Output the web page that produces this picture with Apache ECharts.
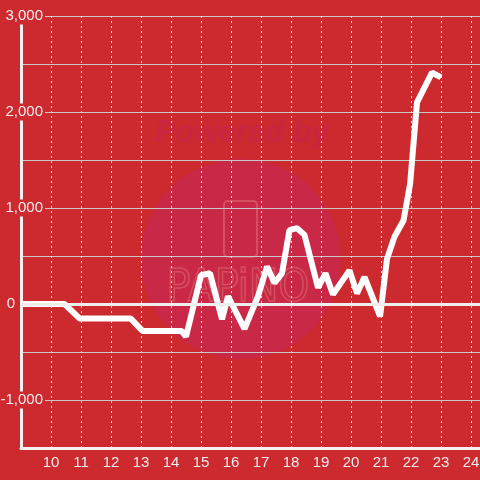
<!DOCTYPE html>
<html>
<head>
<meta charset="utf-8">
<script src="https://cdn.jsdelivr.net/npm/echarts@6/dist/echarts.min.js"></script>
<style>html,body{margin:0;padding:0;background:#cc2a2f}#c{width:480px;height:480px}</style>
</head>
<body>
<div id="c"></div>
<script>
// x = hour of day, y = cumulative value
const xValues = [9.0, 10.45, 10.95, 12.65, 13.05, 14.35, 14.5, 15.0, 15.3, 15.7, 15.9, 16.45, 16.9, 17.2, 17.45, 17.7, 17.95, 18.2, 18.45, 18.9, 19.15, 19.4, 19.95, 20.2, 20.45, 20.97, 21.2, 21.45, 21.75, 21.97, 22.2, 22.7, 23.0];
const yValues = [0, 0, -150, -150, -280, -280, -340, 300, 320, -160, 80, -260, 80, 390, 220, 320, 770, 790, 720, 170, 320, 100, 350, 110, 280, -130, 470, 700, 870, 1250, 2100, 2410, 2360];
const yTickLabels = [-1000, 0, 1000, 2000, 3000];

const chart = echarts.init(document.getElementById('c'));
const data = xValues.map((x, i) => [x, yValues[i]]);
const labelFont = '"Liberation Sans", Arial, sans-serif';
chart.setOption({
  backgroundColor: '#cc2a2f',
  animation: false,
  graphic: [
    { type: 'circle', shape: { cx: 241, cy: 259, r: 100 }, style: { fill: '#c92847' }, z: -10 },
    { type: 'text', x: 242, y: 133, style: { text: 'Powered by', fill: '#c82641', font: 'italic bold 31px "Liberation Sans", Arial, sans-serif', align: 'center', verticalAlign: 'middle' }, z: -10 },
    { type: 'rect', shape: { x: 224, y: 201, width: 33, height: 56, r: 4 }, style: { fill: 'none', stroke: '#d3505e', lineWidth: 2 }, z: -10 },
    { type: 'text', x: 238, y: 290, style: { text: 'PAPiNO', fill: 'none', stroke: '#d3505e', lineWidth: 1.5, font: '44px "DejaVu Sans Condensed", "Liberation Sans Narrow", sans-serif', align: 'center', verticalAlign: 'middle' }, z: -10 }
  ],
  grid: { left: 21, right: 0, top: 16, bottom: 32, outerBoundsMode: 'none', containLabel: false },
  xAxis: {
    type: 'value', min: 9, max: 24.3, interval: 1,
    axisLine: { show: true, onZero: false, lineStyle: { color: '#f2f2f2', width: 3 } },
    axisTick: { show: false },
    axisLabel: { color: '#eeeeee', fontSize: 15, fontFamily: labelFont, showMinLabel: false, showMaxLabel: false, margin: 7 },
    splitLine: { show: true, lineStyle: { color: '#e6e6e6', type: [2, 3], width: 1 } }
  },
  yAxis: {
    type: 'value', min: -1500, max: 3000, interval: 500,
    axisLine: { show: true, lineStyle: { color: '#f2f2f2', width: 3 } },
    axisTick: { show: false },
    axisLabel: {
      margin: -24,
      formatter: v => !yTickLabels.includes(v) ? '' : (v === 0 ? '{b|0}' : '{a|' + v.toLocaleString('en-US') + '}'),
      rich: {
        a: { color: '#eeeeee', fontSize: 15, fontFamily: labelFont, backgroundColor: '#cc2a2f', padding: [1, 2] },
        b: { color: '#eeeeee', fontSize: 15, fontFamily: labelFont, padding: [1, 30, 1, 0] }
      }
    },
    splitLine: { show: true, lineStyle: { color: '#c8c8c8', width: 1 } }
  },
  series: [{
    type: 'line',
    data: data,
    showSymbol: false,
    symbol: 'none',
    lineStyle: { color: '#ffffff', width: 6 },
    markLine: {
      silent: true, symbol: 'none', label: { show: false },
      lineStyle: { color: '#eeeeee', width: 3, type: 'solid' },
      data: [{ yAxis: 0 }]
    }
  }]
});
</script>
</body>
</html>
